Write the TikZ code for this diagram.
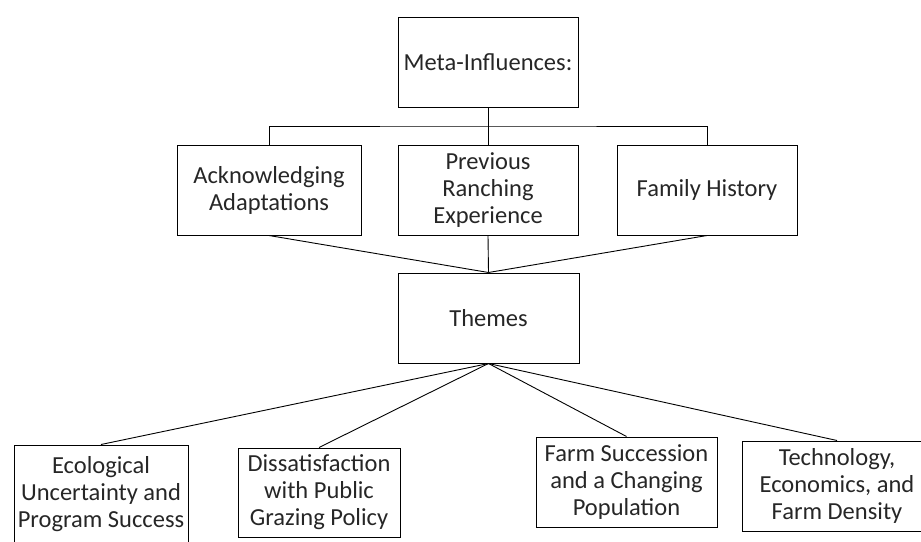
\documentclass[tikz,border=0pt]{standalone}
\usepackage{fontspec}
\setmainfont{Carlito}
\usepackage{tikz}
\usetikzlibrary{
  calc,       % midpoint of the bus line
  positioning % relative placement
}
\tikzset{
  themebox/.style={
    draw=black,
    line width=1pt,
    align=center,
    inner sep=1pt,
    text=black!85,
    minimum width=180pt,
    minimum height=90pt,
    font=\fontsize{24.5}{27}\selectfont
  },
  link/.style={
    draw=black,
    line width=0.9pt
  }
}

\begin{document}
\begin{tikzpicture}[x=1pt, y=-1pt]
    % 0. page frame (pixel grid of the reference)
    \useasboundingbox (0,0) rectangle (921,541);

    % 1. top box
    \node[themebox] (meta) at (488,62) {Meta-Influences:};

    % 2. the three influences
    \node[themebox, minimum width=184pt] (ack)  at (269,190) {Acknowledging\\Adaptations};
    \node[themebox] (prev) at (488,190) {Previous\\Ranching\\Experience};
    \node[themebox] (fam)  at (707,190) {Family History};

    % bracket from the top box to the influences
    \coordinate (bus) at ($(meta.south)!0.5!(prev.north)$);
    \draw[link] (meta.south) -- (prev.north);
    \draw[link] (ack.north) |- (bus) -| (fam.north);

    % 3. themes
    \node[themebox, minimum width=181pt] (themes) at (488.5,318) {Themes};
    \draw[link] (ack.south) -- (themes.north);
    \draw[link] (prev.south) -- (themes.north);
    \draw[link] (fam.south) -- (themes.north);

    % 4. the four themes (outer boxes run past the page edge)
    \node[themebox, minimum width=174pt, minimum height=98pt] (eco) at (101,494)
      {Ecological\\Uncertainty and\\Program Success};
    \node[themebox, minimum width=162pt, minimum height=89pt] (diss) at (319,492.5)
      {Dissatisfaction\\with Public\\Grazing Policy};
    \node[themebox, minimum width=181pt] (farm) at (626.5,482)
      {Farm Succession\\and a Changing\\Population};
    \node[themebox, minimum width=190pt] (tech) at (837,486)
      {Technology,\\Economics, and\\Farm Density};

    \foreach \t in {eco, diss, farm, tech}
      \draw[link] (themes.south) -- (\t.north);

\end{tikzpicture}
\end{document}
